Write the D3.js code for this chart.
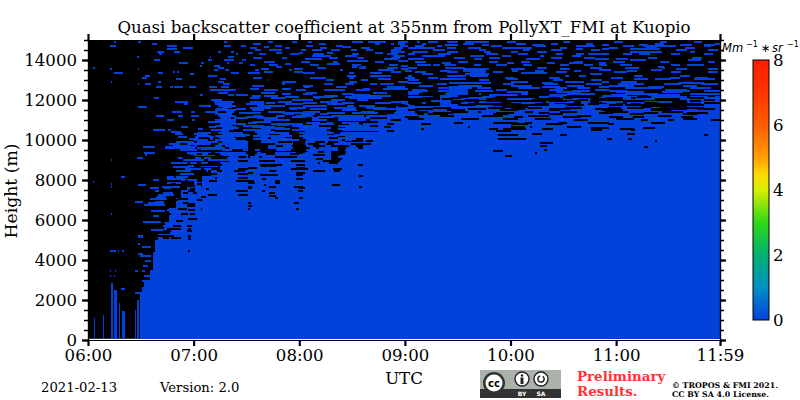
<!DOCTYPE html>
<html><head><meta charset="utf-8">
<script src="https://cdn.jsdelivr.net/npm/d3@7"></script>
<style>html,body{margin:0;padding:0;background:#fff}svg{display:block}text{font-family:"DejaVu Serif";fill:#000}</style>
</head><body><svg id="c" width="800" height="400"></svg>
<script>
// ---- data (minutes after 06:00, metres) ----
const titleText = "Quasi backscatter coefficient at 355nm from PollyXT_FMI at Kuopio";
const hourTicks = [0,60,120,180,240,300,359];
const hourLabels = ["06:00","07:00","08:00","09:00","10:00","11:00","11:59"];
const heightTicks = [0,2000,4000,6000,8000,10000,12000,14000];
const cbarTicks = [0,2,4,6,8];
const cbarStops = [[0,"#0342da"],[1,"#0090c4"],[2,"#00b070"],[3,"#30d818"],[4,"#d8ee00"],[4.5,"#ffd800"],[5,"#ff9e00"],[6,"#ff5c00"],[7,"#ff3400"],[8,"#ff1c00"]];
// early isolated profiles: start, end, top
const earlyColumns = [[3.2,3.7,1100],[8.8,9.3,1250],[12.8,14,2830],[14.8,16.7,2500],[17.4,18.2,1830],[19.1,21,1470],[26.9,27.4,1500],[28,29.1,2000],[29.5,30.5,2400]];
// continuous lowest layer: start time, top
const layerTimes = [30.8,32,35,37,38,40,43,46,50,53,56,60,65,70,75,80,85,90,95,100,105,110,115,120,125,130,135,140,145,150,155,160,165,170,175,180,185,190,195,200,205,210,215,220,225,230,235,240,245,250,255,260,265,270,275,280,285,290,295,300,305,310,315,320,325,330,335,340,345,350,355];
const layerTops  = [2650,2900,3500,4400,5000,5300,6000,6600,7200,7500,7700,8000,8200,8500,8900,9200,9100,9200,9300,9300,9400,9400,9300,9300,9500,9500,9500,9600,9900,10100,10000,10400,11000,11400,11700,11800,11800,11900,12000,12300,12700,12100,11900,11800,11800,11700,11600,11500,11600,11700,11800,11900,11800,11800,11800,12100,11900,11800,11900,11800,11700,11700,11600,11700,11600,11500,11500,12000,12000,12100,12100];
// returns above the layer: height, then start/end pairs
const signalRows = [
[14960,102,105,116,119,150,156,176,182,193,198,214,221,238,243,270,274,299,304,325,329,344,349],
[14930,14.7,15.9,28.4,30.2,77,79,125,127,159,169,187,188.4,195,199,204,210,220,228],
[14860,172,174,94,98,131,135,163,166,176,180,190,192,213,219,243,249,263,267,283,287,322,327,356,359],[14830,36.3,39.3],
[14800,203,210,224,228,252,259,292,296,313,318,336,343,350,356],
[14760,106,110,124,128,141,145,177,182,186,191,198,201,229,235,254,260,277,283,305,310,329,334,350,354],
[14730,12.5,15.9,44.6,50.6,77,81,87,90,282,288,304,307,315,331],
[14700,100,103,144,149.5],[14660,92,96,112,115,132,136,155,160,174,179,192,197,216,220,240,245,268,272,296,301,317,323,339,345],
[14630,53.9,59.5,182,197,204,209,217,223,235,252],
[14580,45,50.6,277,281,292,296,308,325],
[14560,103,108,121,124,138,143,158,162,172,178,196,203,222,226,247,251,263,269,286,291,334,340,352,358],
[14530,95,98,107,110,127,133,149.5,153],
[14470,184,193,204,210,225,229,240,244,255,261,308,326,342,345,172,180],
[14430,39.3,43.1,48.8,52.5,74,75.6,81.3,83.2],[14400,91,94,107,110,120,122,136,139,163,167.5],
[14360,97,101,115,120,128,134,150,154,170,176,182,186,199,206,226,233,244,250,266,270,284,291,313,319,331,336,350,355],
[14330,40.4,42.3,84,85,277,282,288,296,304,309],[14250,127,138,146,153,173,180,190,203,217,225,235,240,257,259,275,280],
[14200,28,29,69.2,70,79.4,83.2],[14160,94,99,110,113,137,142,153,157,172,177,208,214,228,234,263,269,282,288,318,323,343,349],
[14080,123,133,182,191,219,224,249,257,288,296,300,307,168,176],
[14030,37.4,40.8,68.4,70.3,77.5,83.2,87.3,89.6,308,317,341,348],[14000,147,159,176,182],
[13960,100,106,121,126,139,142,163,168,186,192,210,216,228,233,246,251,276,281,298,305,325,330,352,356],
[13920,201,206,238,242,261,265,273,281,290,294],[13880,51.8,56.7,64.3,65.8,79,80.1,85.8,88],[13870,112,115.5,136,143],
[13810,92,95,103,108,126,131,150,155,171,176,196,200,219,223,268,273,282,287,302,309,331,336],
[13780,187,195,202,209,232,238,247,252,340,350,290,295],[13750,63.9,65,71.4,74.8,178,182],[13700,107,110,324,327,155,158,150,153],
[13670,3,3.8,73.7,77.1,182,187,203,214,255,261],[13630,130,135,154,158,285,292,305,313,326,328,170,176],
[13600,213,228],[13580,12.5,13.6,28.4,29,98,103,117,122,178,182,240,248,268,274,334,340,352,358],
[13530,71.8,73.7,77.9,80.1,95,97,114,116,143,145,165,174,290,297,320,326],
[13500,213,226,241,244,180,184,200,206,254,259,276,280,306,312],[13470,48.2,49.5,50.7,51.8],
[13430,100,105,117,122,172,178,186,192,204,210,230,236,266,272,299,306,331,337,352,358],
[13380,14.7,19.7,39.7,42.5,81.3,86,91,97.5,122,129,148,151,160,167,217,226,246,261],
[13330,58.2,60.1,214,228,190,196,285,292],[13270,68,73.3,32.1,35.2,279,283,271,273,310,315,147,152],[13250,182,184,204,215,217,227],[13230,160,172,336,342],
[13170,30.6,33.3,237,242,262,268,180,186],[13130,126,135,148,151,94,99,193,199,297,304,330,336,345,352],
[13080,74.7,78.4,49.9,53.3,238,244,310,318,322,331,344,356,200,215,165,172],[13030,102,103,135,140,155,159,182,188,222,228,264,270,286,292],
[12970,74.1,77.5,39.7,41.6,12.9,13.8,271,282,292,296,148,153,110,118,176,182,240,250,303,312],[12920,182,189,205,229,258,264,335,350],
[12870,76.5,80.9,32.1,35.9,28.4,29,110,112,134,139,146,151,160,164,166,174,283,292],
[12830,259,267,301,316,327,337,348,358,236,242,198,204],
[12770,93,100,122,128,188,196,210,224,240,252,272,282,296,310,338,346],
[12700,38.6,42,46.5,48.4,48.8,53.9,57.6,61.4,69,73.3,75.6,80.3,122.6,126,141,147,290,296,318,327,170,180,258,268],
[12630,199,218,221,229,244,257,265,272,278,285,305,326,342,354],[12620,110,115.5,156,160,167.5,182,92,97],
[12570,100,108,118,124,184,192,208,216,232,238,262,270,288,296,328,340],
[12530,69.2,84.1,134,146,152,160],[12500,186,193,199,212,275,285,296,307,333,342,220,230,350,359],[12420,73.7,79.4,98,106,162,170,124,130],
[12430,182,190,204,216,238,250,266,280,300,316,326,338],
[12370,110,115.5,122,128,144,151,182,188,197,223,246,254,272,288,305,324,342,359],[12300,79.4,83.2,63.5,65.2,84.1,90.7,150,160,228,244,262,272,292,306,318,336],[12270,93,98,134,142,100,108,160,172],
[12200,112,120,128,140,146,160,216,232,256,270,290,312,320,340,342,359,182,196],
[12130,37.4,40.4,92,97.5,129,132,148,167,104,112],[12080,212,226,238,254,270,286,304,322,336,359],[12030,153,159,70,76,116,128,138,146],
[11960,92,100,108,116,132,142,172,182,222,236,260,276,290,304,316,332],[11950,49.5,56.7,71.8,83.2],[11900,101,106,122,130,144,151,163,182,240,258,306,318],
[11830,54.8,56.7,72,82,90,100,112,122,136,146],[11750,63.3,69.9,74,84,96,110,124,136,154,163],[11730,108,112,122,129,147,151],[11700,28.4,33.6,76,82],
[11640,92,104,114,124,140,152,158,170],[11580,72.8,79.4,115,119,162,182,84,90,126,136],[11530,93,100,144,153,72,84],
[11470,47.6,53.3,58.6,60.5,66.2,73.7,78.4,83.2,102,112,122,132,155,163],[11400,86,98,110,122,136,146,150,165],[11370,112,117,121,129,132,137,72,82],[11270,38.6,43.1,51,53.9,58.6,63.3,74,84,118,128,138,152,158,170],[11250,94,99,107,112,145,157],
[11200,90,100,116,124,130,140],[11170,74.7,81.3,83.2,90.7,142,160],[11130,127,131,147,149,96,108],[11030,45,48.8,59,60.5,100,115,127,136,142,158,160,172,72,84],[10970,68,84.1,94,104],[10920,91,96,124,132,135,139,144,154],
[10870,76,90,104,122,130,140,156,168],[10830,74.7,81.3],[10800,107,114,127,131,148,155],[10730,72,82,88,100,116,130,142,160],[10700,52.9,56.7,69,72.8,79.4,84.1,93,106,125,131],[10630,76,86,98,112,120,138,146,170],[10600,62.4,65.2,80.3,83.2],[10580,106,115,142,156],
[10530,36.9,43.5,45.4,47.2,70,80,88,104,116,136,144,172],[10470,47.2,52.9,75.6,80.3,95,106,123,138],[10400,62,70,74,88,96,114,120,140,143,162],[10330,49.5,53.9,60,68],[10300,96,103,109,115,122,136,76,92,140,160],
[10230,62,70,72,90,94,116,120,142,146,164],[10200,51.4,56.3,60.9,63.3,73.7,83.2,69,71.8],[10130,97.5,102,104,112,122,137,142,162],[10080,57.6,63.3,69.2,70.9,74.7,84.1,92,98,104,116],
[10030,60,68,72,90,98,120,124,144,146,160],[9930,50,60,62,74,76,92,94,108,116,130,132,146],[9850,46,52,56,70,74,96,100,120,122,150],[9760,48,58,60,76,78,92,100,116,124,138,140,150],[9700,31,38,45,48,51,55,44,60.5],[9630,44,60.5,62,78,80,94,98,118,126,150],[9540,52,62,64,82,88,100,106,122,124,148],[9420,32,38,56,70,72,90,96,118,122,150],[9360,58,66,68,88],[9300,32.5,33.5,60,72,76,92],[9130,28,31,51,54,60.5,64,66,86],[9030,12.9,13.8,54,66,68,84],
[8920,47,57,58,62,64,68],[8760,50,60,64,74],[8700,48,58],[8580,55,64,66,70],[8500,50,60],[8480,50,58,62,68],[8330,52,60],[8200,19,21,45,49,50,57],[8100,45,55],[8030,37,40.6,53,62],[7970,3,3.6],[7900,45,53],[7870,12.9,13.8],
[7780,28.4,33],[7700,12.9,13.8,42,52],[7630,35,40.6,43,50],[7500,37.8,40.6],[7380,42.5,48],[7300,40,49],[7220,38.8,44.4],[7100,35,45],[6950,26.8,31,38,43],[6900,34,43],[6780,32,43.5],[6530,45,50],[6500,36,44],[6330,12.9,13.8],[6230,37,40.6],
[5950,31,36,35,41.6],[5750,37,44.4],[5530,36,45],[5250,28.5,31.3],[5200,28.4,31],[4830,28.5,29.5],[4700,30.4,36],[4500,12.5,16,17,17.6,19.5,20.2],[4330,28.5,31.3],[4250,29.5,36],
[4000,32.3,36],[3750,31.3,34.2],[3500,12.6,13.2,15.2,15.8,26.6,28.5,30.4,32.3],[3250,12.6,13.2,14.8,15.4,32,37],[3000,30.4,35],[2580,19,21],[2420,26.6,30.4]
];
// gaps inside the layer: height, then start/end pairs
const gapRows = [
[12330,289,297,196,203,216,222,250,258],[12250,216,224,286,292,312,318,352,356],[12170,271,275,285,290,294.5,304,308.7,311.5,190,196,206,212,230,238,262,268,342,350],[12080,201,207],[12030,278.5,284,295.5,303,322,335,214,222,252,262,350,356],
[11990,186,194,206,214,226,236,262,272,342,348],
[11920,206,212,235,240.4,286,292,316,324,350,359,192,200],[11870,271,274,284,290,308.7,314.4,326,331,337,348,183,190,254,262],[11830,216,232,237,246,172,178],
[11780,186,200,210,220,250,262,272,282,296,304,340,350],[11750,314.4,326,176,182],[11670,227,237,271,280.4,295.5,303,196,206,250,258,306,316,338,350],[11600,186,196,216,226,240,248,262,274,288,296,320,332,346,356],[11530,182,187.5,320,331,204,214,234,244,262,268,292,304],[11450,186,193,221.5,223,248,253,293.6,307,326,338,206,216,268,278],
[11380,168,174,196,208,232,242,256,262,290,298,316,324,340,352],[11330,204,204.5,187,191,193,204,230,238.5,338,346.5,262,270,308,316],[11260,200,208,224,236,250,262,278,286,324,332],[11200,242,247,309.6,316,337,343.7,180,188,270,280,296,304],[11080,182,191,254,263,212,222,236,244,300,310,338,346],
[11030,314.4,318,329.5,333,354,359,276,284,172,178],[10920,208,213,230,244,248,252,267,272,284,296,320,328],[10830,189,195,295.5,299,240,250,260,270,170,174],[10700,216,217,251,252,240,248,272,280,168,172],[10670,315.3,322,286,296],
[10580,189,191,228,233,236,249,258,264,302,310],[10530,286,291.7,308.7,310.6],[10500,232,240.4,170,174],[10370,306,310.6,252,258],[10280,233,244,350,352,268,272],[10120,233,249,295,297.4,307,309],
[10000,322,323,150,156,158,162],[10100,84,90,92,94,152,156],
[9950,91,98,116.4,123,129,134.4,136.3,142],[9920,256.5,264],[9870,91,97,98,106,116.4,123,125,131.5,135.3,140,149.5,161],
[9770,91,96,97,102,107,111,116.4,122,128,134.4,138,148.5,152.3,156],[9750,62,72],[9730,256.5,261],[9700,316,318],
[9670,91,94,97,102,116.4,122,129.6,131.5,142,146.7,153.3,156],[9570,91,95,97.5,101,102,107,115.5,122,142,146,259,261],
[9500,65,76],[9480,230,236],[9450,91,94,98,106,119.2,123,130.6,134,138,146.7],[9380,254,255],[9370,91,93,101,106,114.5,120,138,146],[9330,62,65,68,75],
[9280,91,92.4,128,134.4,138,143],[9250,237,241],[9200,91,92,97,99,106,119,138,142],[9170,70,79],[9080,129.6,133.4,138,144],
[9000,97,106,115.5,123,133.4,143,85,91],[8900,130.6,132,137,142],[8800,97.5,110,118.3,123,153.3,156,49,57,64,76],[8730,98,102,103,107],
[8670,91,96,118.3,123],[8580,85,91,115.5,125,139,144],[8500,103,107,128,134.4,140,143,58.6,67,73,76,83,89],[8400,91,94,118.3,123],[8330,68,73,85,91],
[8300,97.5,108,118.3,122],[8230,154.2,156],[8170,57,61,63,65,72,73,85,91],[8100,99,101,118.3,122],[8000,55,57,62,65,69,73,84,91,91,94.3,106,109],[7880,91,95,106,109],[7870,47,50,56,60,62,65],
[7800,100,101,138.5,143],[7750,55,60.5,64,65],[7720,91,93,103,107,117,122,154.2,155.5],[7630,91,93,120,123],[7620,47,50,58,60.5,67,69],[7500,57,60.5,84,91,99,100.4,119.2,122],[7420,54,57,59.5,62],
[7380,103,106],[7300,68,73,85,91],[7250,103,107],[7200,49,53,64,67],[7170,106,108,120,122],[7080,51,57],[7030,47,51,62,65],[6920,54,57,117,120,91,92.4],[6830,57,60.5],[6750,91,93,44.4,49,56,60.5],
[6580,118,120,91,92,51,56,64,65],[6550,57,60.5],[6330,45,47,53,57,58,60.5],[6080,57,62],[6000,42.5,46,50,54],[5830,40,44],[5750,37,42.7,48,53,56,59],[5580,45,53,57,58.6],[5500,56,59,42.5,47],[5420,37,46.5],[5250,38,47,41,49,57,58.6],[5170,57,58,42.5,46,47,53],[5080,57,58.6],[4500,57,57.7]
];
const blockColor = "#0342da";

const svg = d3.select("#c");
const L = 88, R = 720, T = 40, B = 340;
const x = d3.scaleLinear().domain([0,359]).range([L,R]);
const y = d3.scaleLinear().domain([0,15000]).range([B,T]);
const floor = 60, cellH = 100;

svg.append("rect").attr("x",x(0)).attr("y",y(15000)).attr("width",x(359)-x(0)).attr("height",y(0)-y(15000)).attr("fill","#000");
svg.append("rect").attr("x",x(0)).attr("y",y(floor)).attr("width",x(359)-x(0)).attr("height",y(0)-y(floor)).attr("fill","#fff");
const plot = svg.append("g").attr("shape-rendering","crispEdges");

plot.selectAll(".early").data(earlyColumns).join("rect")
  .attr("x",d=>x(d[0])).attr("width",d=>x(d[1])-x(d[0]))
  .attr("y",d=>y(d[2])).attr("height",d=>y(floor)-y(d[2])).attr("fill",blockColor);
plot.selectAll(".layer").data(layerTimes).join("rect")
  .attr("x",d=>x(d)).attr("width",(d,i)=>x(i+1<layerTimes.length?layerTimes[i+1]:359)-x(d))
  .attr("y",(d,i)=>y(layerTops[i])).attr("height",(d,i)=>y(floor)-y(layerTops[i])).attr("fill",blockColor);

function runs(rows){const out=[];rows.forEach(r=>{for(let i=1;i+1<r.length;i+=2)out.push([r[0],r[i],r[i+1]]);});return out;}
plot.selectAll(".sig").data(runs(signalRows)).join("rect")
  .attr("x",d=>x(d[1])).attr("width",d=>Math.min(x(d[2]),R)-x(d[1]))
  .attr("y",d=>y(d[0])).attr("height",y(0)-y(cellH)).attr("fill",blockColor);
plot.selectAll(".gap").data(runs(gapRows)).join("rect")
  .attr("x",d=>x(d[1])).attr("width",d=>Math.min(x(d[2]),R)-x(d[1]))
  .attr("y",d=>y(d[0])).attr("height",y(0)-y(cellH)).attr("fill","#000");

// axes
const fs = 16.6;
function styleAxis(g){g.select(".domain").attr("stroke","#000").attr("stroke-width",1.2);
  g.selectAll("line").attr("stroke","#000");
  g.selectAll("text").attr("font-size",fs).attr("font-family","DejaVu Serif");}
const minor = d3.range(0,15001,500);
[[d3.axisLeft,L,true],[d3.axisRight,R,false]].forEach(([ax,pos,lab])=>{
  svg.append("g").attr("transform",`translate(${pos},0)`).call(ax(y).tickValues(minor).tickSize(4).tickFormat("")).call(styleAxis)
     .selectAll("line").attr("stroke-width",1.5);
  const g = svg.append("g").attr("transform",`translate(${pos},0)`).call(ax(y).tickValues(heightTicks).tickSize(6).tickSizeOuter(0).tickPadding(5).tickFormat(lab?d3.format("d"):"")).call(styleAxis);
  g.selectAll("line").attr("stroke-width",2.2);
});
const xb = svg.append("g").attr("transform",`translate(0,${B})`).call(d3.axisBottom(x).tickValues(hourTicks).tickSize(6).tickSizeOuter(0).tickPadding(3).tickFormat((d,i)=>hourLabels[i])).call(styleAxis);
xb.selectAll("line").attr("stroke-width",2.2);
const xt = svg.append("g").attr("transform",`translate(0,${T})`).call(d3.axisTop(x).tickValues(hourTicks).tickSize(6).tickSizeOuter(0).tickFormat("")).call(styleAxis);
xt.selectAll("line").attr("stroke-width",2.2);

function txt(s,xp,yp,size,opt={}){const t=svg.append("text").attr("x",xp).attr("y",yp).attr("font-size",size).text(s);
  Object.entries(opt).forEach(([k,v])=>t.attr(k,v));return t;}
txt(titleText,404,33,16.6,{"text-anchor":"middle"});
txt("UTC",404,384,16.6,{"text-anchor":"middle"});
txt("Height (m)",0,0,17.2,{"text-anchor":"middle",transform:"translate(17,191) rotate(-90)"});
txt("2021-02-13",41,392,13.2);
txt("Version: 2.0",160,392,13.2);

// unit
const u = svg.append("text").attr("x",722).attr("y",52).attr("font-size",11.5).style("font-family","DejaVu Sans").style("font-style","italic");
u.append("tspan").text("Mm");
u.append("tspan").attr("x",746).attr("y",47).attr("font-size",8).style("font-style","normal").text("−1");
u.append("tspan").attr("x",761).attr("y",52).style("font-style","normal").text("∗");
u.append("tspan").attr("x",772).attr("y",52).text("sr");
u.append("tspan").attr("x",787).attr("y",47).attr("font-size",8).style("font-style","normal").text("−1");

// colour bar
const cb = d3.scaleLinear().domain([0,8]).range([320,60]);
const grad = svg.append("defs").append("linearGradient").attr("id","cbg").attr("x1",0).attr("x2",0).attr("y1",1).attr("y2",0);
cbarStops.forEach(s=>grad.append("stop").attr("offset",s[0]/8).attr("stop-color",s[1]));
svg.append("rect").attr("x",753).attr("y",cb(8)).attr("width",16).attr("height",cb(0)-cb(8)).attr("fill","url(#cbg)").attr("stroke","#000").attr("stroke-width",1);
svg.selectAll(".cbl").data(cbarTicks).join("text").attr("x",773).attr("y",d=>cb(d)+6).attr("font-size",16.6).text(d=>d);

// licence badge
const bd = svg.append("g");
bd.append("rect").attr("x",480).attr("y",370).attr("width",81).attr("height",28).attr("fill","#aab2ab");
bd.append("rect").attr("x",480).attr("y",389).attr("width",81).attr("height",9).attr("fill","#333");
bd.append("circle").attr("cx",494).attr("cy",383).attr("r",11).attr("fill","#333");
bd.append("circle").attr("cx",494).attr("cy",383).attr("r",8.5).attr("fill","#fff");
bd.append("text").attr("x",494).attr("y",386.5).attr("text-anchor","middle").attr("font-size",10).style("font-family","DejaVu Sans").attr("font-weight","bold").text("cc");
[522,541].forEach(c=>{bd.append("circle").attr("cx",c).attr("cy",379).attr("r",7).attr("fill","#fff").attr("stroke","#222").attr("stroke-width",1.4);});
bd.append("circle").attr("cx",522).attr("cy",375.5).attr("r",1.3).attr("fill","#222");
bd.append("rect").attr("x",520.5).attr("y",377.5).attr("width",3).attr("height",6.5).attr("fill","#222");
bd.append("path").attr("d",d3.arc()({innerRadius:2.4,outerRadius:3.9,startAngle:0.6,endAngle:6}) ).attr("transform","translate(541,379)").attr("fill","#222");
bd.selectAll(".l").data([["BY",522],["SA",541]]).join("text").attr("x",d=>d[1]).attr("y",396).attr("text-anchor","middle").attr("font-size",6).style("font-family","DejaVu Sans").style("fill","#fff").attr("font-weight","bold").text(d=>d[0]);

// notes
txt("Preliminary",577,381,13.4,{"font-weight":"bold"}).style("fill","#ff3333");
txt("Results.",577,396,13.4,{"font-weight":"bold"}).style("fill","#ff3333");
txt("© TROPOS & FMI 2021.",672,388,7.85,{"font-weight":"bold"});
txt("CC BY SA 4.0 License.",672,397,7.85,{"font-weight":"bold"});
</script></body></html>
